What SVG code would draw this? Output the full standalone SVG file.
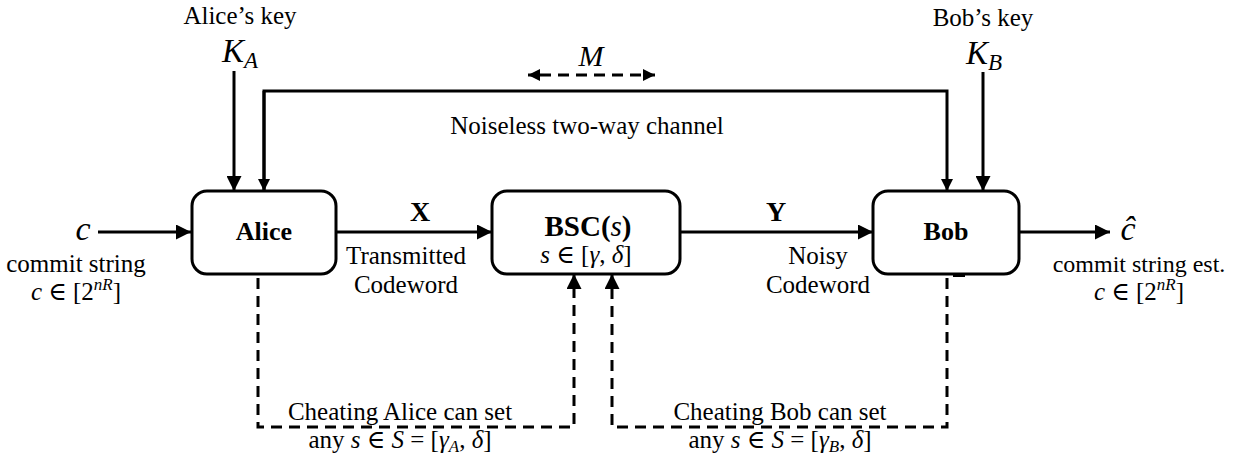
<svg xmlns="http://www.w3.org/2000/svg" width="1235" height="454" viewBox="0 0 1235 454" font-family="'Liberation Serif', 'DejaVu Serif', serif">
<defs>
<marker id="ah" viewBox="0 0 10 10" refX="10" refY="5" markerWidth="5" markerHeight="5" markerUnits="strokeWidth" orient="auto">
<path d="M0,0 L10,5 L0,10 z" fill="#000"/>
</marker>
<marker id="ahs" viewBox="0 0 10 10" refX="10" refY="5" markerWidth="4" markerHeight="4" markerUnits="strokeWidth" orient="auto">
<path d="M0,0 L10,5 L0,10 z" fill="#000"/>
</marker>
</defs>
<style>
.box{fill:#fff;stroke:#000;stroke-width:3}
.ln{fill:none;stroke:#000;stroke-width:3}
.ds{fill:none;stroke:#000;stroke-width:3;stroke-dasharray:11 7}
.c{text-anchor:middle}
.b{font-weight:bold}
.i{font-style:italic}
</style>
<rect width="1235" height="454" fill="#fff"/>
<g id="connectors">
<line class="ln" x1="98" y1="232" x2="191" y2="232" marker-end="url(#ah)"/>
<line class="ln" x1="234" y1="71" x2="234" y2="191" marker-end="url(#ah)"/>
<polyline class="ln" points="264,191 264,91 947,91 947,191" marker-end="url(#ahs)"/>
<line class="ln" x1="264" y1="91" x2="264" y2="191" marker-end="url(#ahs)"/>
<line class="ln" x1="983" y1="72" x2="983" y2="191" marker-end="url(#ah)"/>
<line class="ds" x1="540" y1="75" x2="643" y2="75"/>
<line class="ln" x1="538" y1="75" x2="528" y2="75" marker-end="url(#ahs)"/>
<line class="ln" x1="645" y1="75" x2="655" y2="75" marker-end="url(#ahs)"/>
<line class="ln" x1="336" y1="232" x2="492" y2="232" marker-end="url(#ah)"/>
<line class="ln" x1="680" y1="232" x2="873" y2="232" marker-end="url(#ah)"/>
<line class="ln" x1="1019" y1="232" x2="1110" y2="232" marker-end="url(#ah)"/>
<polyline class="ds" points="258,278 258,427 574,427 574,282"/>
<line class="ln" x1="574" y1="286" x2="574" y2="274" marker-end="url(#ah)"/>
<polyline class="ds" points="947,278 947,427 612,427 612,282"/>
<line class="ln" x1="612" y1="286" x2="612" y2="274" marker-end="url(#ah)"/>
<line x1="953" y1="276" x2="965" y2="276" stroke="#000" stroke-width="2"/>
</g>
<g id="alice">
<rect class="box" x="192" y="191" width="144" height="83" rx="15"/>
<text class="c b" x="264" y="240" font-size="26">Alice</text>
</g>
<g id="bsc">
<rect class="box" x="492" y="191" width="188" height="83" rx="15"/>
<text class="c" x="588" y="236" font-size="29"><tspan class="b">BSC(</tspan><tspan class="i">s</tspan><tspan class="b">)</tspan></text>
<text class="c" x="586" y="263" font-size="25"><tspan class="i">s</tspan> ∈ [<tspan class="i">γ</tspan>, <tspan class="i">δ</tspan>]</text>
</g>
<g id="bob">
<rect class="box" x="873" y="191" width="146" height="83" rx="15"/>
<text class="c b" x="946" y="240" font-size="26">Bob</text>
</g>
<g id="labels" font-size="25">
<text class="c" x="240" y="24">Alice’s key</text>
<text class="c i" x="240" y="62" font-size="33">K<tspan font-size="23" dy="6">A</tspan></text>
<text class="c" x="983" y="26">Bob’s key</text>
<text class="c i" x="984" y="64" font-size="33">K<tspan font-size="23" dy="6">B</tspan></text>
<text class="c i" x="591" y="66" font-size="30">M</text>
<text class="c" x="587" y="134">Noiseless two-way channel</text>
<text class="c i" x="83" y="240" font-size="34">c</text>
<text class="c" x="76" y="272">commit string</text>
<text class="c" x="76" y="300"><tspan class="i">c</tspan> ∈ [2<tspan font-size="17" dy="-10" class="i">nR</tspan><tspan dy="10">]</tspan></text>
<text class="c b" x="420" y="221" font-size="28">X</text>
<text class="c" x="406" y="264">Transmitted</text>
<text class="c" x="406" y="293">Codeword</text>
<text class="c b" x="776" y="221" font-size="28">Y</text>
<text class="c" x="818" y="264">Noisy</text>
<text class="c" x="818" y="293">Codeword</text>
<text class="c i" x="1128" y="240" font-size="34">ĉ</text>
<text class="c" x="1139" y="272" font-size="24">commit string est.</text>
<text class="c" x="1139" y="300"><tspan class="i">c</tspan> ∈ [2<tspan font-size="17" dy="-10" class="i">nR</tspan><tspan dy="10">]</tspan></text>
<text class="c" x="400" y="420">Cheating Alice can set</text>
<text class="c" x="400" y="448">any <tspan class="i">s</tspan> ∈ <tspan class="i">S</tspan> = [<tspan class="i">γ</tspan><tspan font-size="17" dy="4" class="i">A</tspan><tspan dy="-4">, </tspan><tspan class="i">δ</tspan>]</text>
<text class="c" x="780" y="420">Cheating Bob can set</text>
<text class="c" x="780" y="448">any <tspan class="i">s</tspan> ∈ <tspan class="i">S</tspan> = [<tspan class="i">γ</tspan><tspan font-size="17" dy="4" class="i">B</tspan><tspan dy="-4">, </tspan><tspan class="i">δ</tspan>]</text>
</g>
</svg>
